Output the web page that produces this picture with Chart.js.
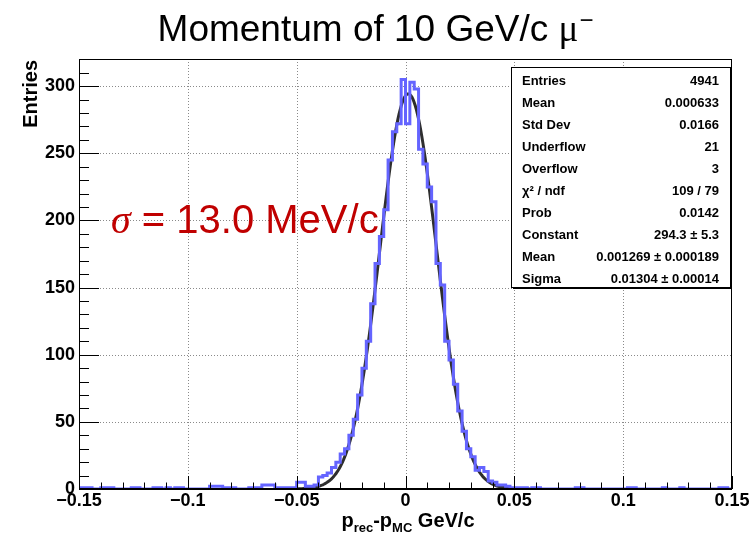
<!DOCTYPE html>
<html>
<head>
<meta charset="utf-8">
<script src="https://cdn.jsdelivr.net/npm/chart.js@4.4.1/dist/chart.umd.min.js"></script>
<style>
  html, body { margin: 0; padding: 0; background: #fff; }
  #c { display: block; }
</style>
</head>
<body>
<canvas id="c" width="751" height="542"></canvas>
<script>
// histogram: 150 bins of 0.002 from -0.15
const binLo = -0.15
const binWidth = 0.002
const counts = [
  1, 1, 1, 0, 0, 1, 1, 1, 0, 0,
  0, 0, 1, 1, 0, 0, 0, 1, 1, 0,
  1, 0, 1, 1, 0, 0, 0, 0, 0, 0,
  2, 2, 2, 1, 1, 1, 0, 0, 0, 1,
  1, 1, 3, 3, 3, 1, 1, 1, 1, 1,
  5, 5, 2, 2, 3, 9, 10, 12, 16, 20,
  26, 30, 40, 52, 70, 90, 110, 138, 168, 188,
  208, 245, 266, 272, 305, 272, 303, 298, 253, 242,
  225, 214, 168, 152, 110, 96, 78, 58, 43, 30,
  24, 14, 16, 13, 6, 5, 3, 3, 2, 1,
  1, 1, 1, 0, 1, 1, 0, 0, 0, 0,
  0, 0, 0, 0, 1, 1, 0, 0, 0, 0,
  0, 0, 0, 0, 0, 0, 1, 1, 0, 0,
  0, 0, 0, 0, 1, 0, 0, 0, 1, 0,
  0, 0, 0, 0, 0, 0, 0, 1, 1, 0,
]

const xTicks = [-0.15, -0.1, -0.05, 0, 0.05, 0.1, 0.15]
const yTicks = [0, 50, 100, 150, 200, 250, 300]
const yMax = 320.25

// gaussian fit: constant, mean, sigma
const fitParams = [294.3, 0.001269, 0.01304]
const fitRange = [-0.055, 0.057]

const statLabels = ['Entries', 'Mean', 'Std Dev', 'Underflow', 'Overflow', 'χ² / ndf', 'Prob', 'Constant', 'Mean', 'Sigma']
const statValues = ['4941', '0.000633', '0.0166', '21', '3', '109 / 79', '0.0142', '294.3 ± 5.3', '0.001269 ± 0.000189', '0.01304 ± 0.00014']

const SANS = '"Liberation Sans", Arial, Helvetica, sans-serif'
const SERIF = '"Liberation Serif", "Times New Roman", serif'

// each point is a bin's low edge; stepped 'before' keeps its height until the next edge
const histPoints = counts.map((c, i) => ({ x: binLo + i * binWidth, y: c }))
histPoints.push({ x: binLo + counts.length * binWidth, y: counts[counts.length - 1] })

const fitPoints = []
for (let k = 0; ; k++) {
  const x = fitRange[0] + k * 0.0005
  if (x > fitRange[1] + 1e-9) break
  const z = (x - fitParams[1]) / fitParams[2]
  fitPoints.push({ x, y: fitParams[0] * Math.exp(-0.5 * z * z) })
}

const fmtX = (v) => {
  const r = Math.round(v * 100) / 100
  if (r === 0) return '0'
  return (r < 0 ? '\u2212' : '') + String(Math.abs(r))
}

const rootDecor = {
  id: 'rootDecor',
  beforeDatasetsDraw(chart) {
    const { ctx, chartArea: a, scales: { x, y } } = chart
    ctx.save()
    ctx.strokeStyle = '#8a8a8a'
    ctx.lineWidth = 1
    ctx.setLineDash([1, 2])
    xTicks.slice(1, -1).forEach((v) => {
      const px = Math.round(x.getPixelForValue(v)) + 0.5
      ctx.beginPath()
      ctx.moveTo(px, a.top)
      ctx.lineTo(px, a.bottom)
      ctx.stroke()
    })
    yTicks.slice(1).forEach((v) => {
      const py = Math.round(y.getPixelForValue(v)) + 0.5
      ctx.beginPath()
      ctx.moveTo(a.left, py)
      ctx.lineTo(a.right, py)
      ctx.stroke()
    })
    ctx.restore()
  },
  afterDatasetsDraw(chart) {
    const { ctx, chartArea: a, scales: { x, y } } = chart
    ctx.save()

    // ticks inside the frame
    ctx.strokeStyle = '#000'
    ctx.lineWidth = 1
    for (let k = 0; k <= 30; k++) {
      const v = -0.15 + k * 0.01
      const px = Math.round(x.getPixelForValue(v)) + 0.5
      const len = k % 5 === 0 ? 13 : 6.5
      ctx.beginPath()
      ctx.moveTo(px, a.bottom)
      ctx.lineTo(px, a.bottom - len)
      ctx.stroke()
    }
    for (let v = 0; v <= 320; v += 10) {
      const py = Math.round(y.getPixelForValue(v)) + 0.5
      const len = v % 50 === 0 ? 20 : 10
      ctx.beginPath()
      ctx.moveTo(a.left, py)
      ctx.lineTo(a.left + len, py)
      ctx.stroke()
    }

    // frame
    ctx.strokeStyle = '#000'
    ctx.lineWidth = 1
    ctx.strokeRect(a.left + 0.5, a.top + 0.5, a.right - a.left - 1, a.bottom - a.top)
    ctx.lineWidth = 2
    ctx.beginPath()
    ctx.moveTo(a.left, a.bottom)
    ctx.lineTo(a.right, a.bottom)
    ctx.stroke()

    // stats box
    const bl = 511, bt = 67, br = 731, bb = 288
    ctx.fillStyle = '#fff'
    ctx.fillRect(bl, bt, br - bl, bb - bt)
    ctx.strokeStyle = '#000'
    ctx.lineWidth = 1
    ctx.strokeRect(bl + 0.5, bt + 0.5, br - bl - 1, bb - bt - 1)
    ctx.beginPath()
    ctx.moveTo(br + 0.5, bt + 2)
    ctx.lineTo(br + 0.5, bb + 0.5)
    ctx.lineTo(bl + 2, bb + 0.5)
    ctx.stroke()
    ctx.fillStyle = '#000'
    ctx.font = 'bold 13px ' + SANS
    ctx.textBaseline = 'middle'
    statLabels.forEach((lab, k) => {
      const ry = bt + 14 + k * 22.1
      ctx.textAlign = 'left'
      ctx.fillText(lab, bl + 11, ry)
      ctx.textAlign = 'right'
      ctx.fillText(statValues[k], br - 12, ry)
    })

    // sigma annotation
    ctx.fillStyle = '#c00000'
    ctx.textAlign = 'left'
    ctx.textBaseline = 'alphabetic'
    ctx.font = 'italic 40px ' + SERIF
    ctx.fillText('σ', 111, 233)
    const sw = ctx.measureText('σ').width
    ctx.font = '40px ' + SANS
    ctx.fillText(' = 13.0 MeV/c', 111 + sw, 233)

    ctx.restore()
  },
  afterDraw(chart) {
    const { ctx } = chart
    ctx.save()
    ctx.fillStyle = '#000'
    ctx.textBaseline = 'alphabetic'

    // title
    const main = 'Momentum of 10 GeV/c '
    ctx.font = '37px ' + SANS
    const w1 = ctx.measureText(main).width
    ctx.font = '37px ' + SERIF
    const w2 = ctx.measureText('μ').width
    ctx.font = '24px ' + SANS
    const w3 = ctx.measureText('\u2212').width
    let tx = 375 - (w1 + w2 + w3) / 2
    ctx.textAlign = 'left'
    ctx.font = '37px ' + SANS
    ctx.fillText(main, tx, 41)
    tx += w1
    ctx.font = '37px ' + SERIF
    ctx.fillText('μ', tx, 41)
    tx += w2
    ctx.font = '24px ' + SANS
    ctx.fillText('\u2212', tx + 1, 28)

    // x title with subscripts
    const parts = [
      ['p', 20, 0], ['rec', 13, 5], ['-p', 20, 0], ['MC', 13, 5], [' GeV/c', 20, 0],
    ]
    let total = 0
    parts.forEach(([t, s]) => {
      ctx.font = 'bold ' + s + 'px ' + SANS
      total += ctx.measureText(t).width
    })
    let px = 408 - total / 2
    parts.forEach(([t, s, dy]) => {
      ctx.font = 'bold ' + s + 'px ' + SANS
      ctx.fillText(t, px, 527 + dy)
      px += ctx.measureText(t).width
    })

    // y title
    ctx.translate(31, 60)
    ctx.rotate(-Math.PI / 2)
    ctx.font = 'bold 20px ' + SANS
    ctx.textAlign = 'right'
    ctx.textBaseline = 'middle'
    ctx.fillText('Entries', 0, 0)
    ctx.restore()
  },
}

new Chart(document.getElementById('c'), {
  type: 'line',
  data: {
    datasets: [
      {
        data: histPoints,
        borderColor: '#6464ff',
        borderWidth: 3,
        stepped: 'before',
        pointRadius: 0,
        fill: false,
      },
      {
        data: fitPoints,
        borderColor: '#2e2e2e',
        borderWidth: 3,
        tension: 0,
        pointRadius: 0,
        fill: false,
      },
    ],
  },
  options: {
    responsive: false,
    animation: false,
    devicePixelRatio: 1,
    layout: { padding: { left: 0, top: 59, right: 19, bottom: 0 } },
    plugins: {
      legend: { display: false },
      tooltip: { enabled: false },
      title: { display: false },
    },
    scales: {
      x: {
        type: 'linear',
        min: -0.15,
        max: 0.15,
        afterBuildTicks: (s) => { s.ticks = xTicks.map((v) => ({ value: v })) },
        afterFit: (s) => { s.height = 53; s.paddingLeft = 0; s.paddingRight = 0 },
        grid: { display: false, drawTicks: false },
        border: { display: false },
        ticks: {
          padding: 1,
          maxRotation: 0,
          autoSkip: false,
          color: '#000',
          font: { family: SANS, size: 18, weight: 'bold' },
          callback: (v) => fmtX(v),
        },
      },
      y: {
        type: 'linear',
        min: 0,
        max: yMax,
        afterBuildTicks: (s) => { s.ticks = yTicks.map((v) => ({ value: v })) },
        afterFit: (s) => { s.width = 79; s.paddingTop = 0; s.paddingBottom = 0 },
        grid: { display: false, drawTicks: false },
        border: { display: false },
        ticks: {
          padding: 4,
          autoSkip: false,
          color: '#000',
          font: { family: SANS, size: 18, weight: 'bold' },
          callback: (v) => String(v),
        },
      },
    },
  },
  plugins: [rootDecor],
})
</script>
</body>
</html>
